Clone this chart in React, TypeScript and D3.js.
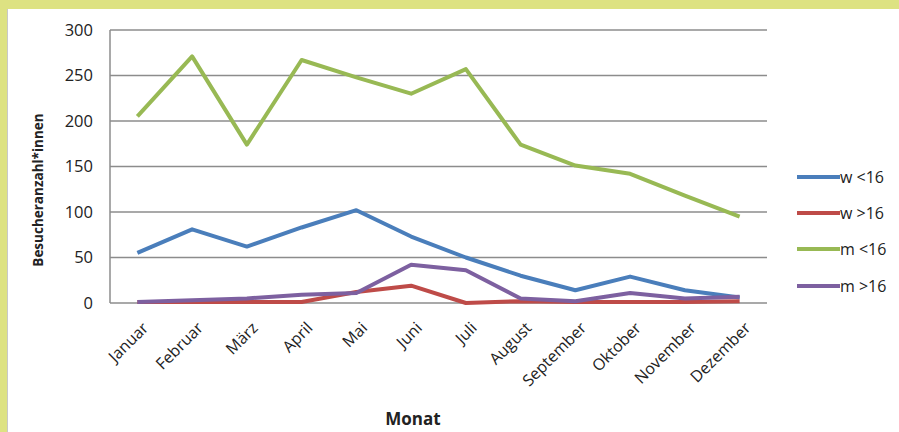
import React from "react";
import * as d3 from "d3";

const months = ["Januar","Februar","März","April","Mai","Juni","Juli","August","September","Oktober","November","Dezember"];
const wUnder16 = [55, 81, 62, 83, 102, 73, 50, 30, 14, 29, 14, 6];
const wOver16 = [1, 1, 1, 1, 12, 19, 0, 2, 1, 1, 1, 2];
const mUnder16 = [205, 271, 174, 267, 248, 230, 257, 174, 151, 142, 118, 95];
const mOver16 = [1, 3, 5, 9, 11, 42, 36, 5, 2, 11, 5, 7];
const yTicks = [0, 50, 100, 150, 200, 250, 300];
const seriesNames = ["w <16", "w >16", "m <16", "m >16"];
const seriesColors = ["#4a7ebb", "#be4b48", "#98b954", "#7d60a0"];

const W = 899, H = 432;
const font = "'Open Sans', 'Liberation Sans', sans-serif";

export default function App() {
  const x = d3.scaleBand<string>().domain(months).range([110, 767]);
  const y = d3.scaleLinear().domain([0, 300]).range([303, 30]);
  const series = [wUnder16, wOver16, mUnder16, mOver16];
  const line = d3.line<number>()
    .x((_, i) => (x(months[i]) as number) + x.bandwidth() / 2)
    .y((d) => y(d));
  const legendY = [177, 213, 249, 286];
  const drawOrder = [2, 0, 1, 3];
  return (
    <svg width={W} height={H} style={{ position: "absolute", left: 0, top: 0 }} fontFamily={font}>
      <rect x={0} y={0} width={W} height={H} fill="#ffffff" />
      <rect x={0} y={0} width={W} height={9} fill="#dde282" />
      <rect x={0} y={0} width={7} height={H} fill="#dde282" />
      <line x1={7.5} x2={7.5} y1={9} y2={H} stroke="#c8c8c8" strokeWidth={1} />
      {yTicks.map((t) => (
        <g key={t}>
          {t > 0 && (
            <line x1={110} x2={767} y1={y(t)} y2={y(t)} stroke="#8c8c8c" strokeWidth={1.5} />
          )}
          <text x={93} y={y(t)} dy="0.35em" textAnchor="end" fontSize={16.5} fill="#222">{t}</text>
        </g>
      ))}
      <line x1={110} x2={767} y1={y(0)} y2={y(0)} stroke="#8c8c8c" strokeWidth={1.5} />
      <line x1={110} x2={110} y1={y(300)} y2={y(0)} stroke="#8c8c8c" strokeWidth={1.5} />
      {drawOrder.map((si) => (
        <path key={si} d={line(series[si]) as string} fill="none" stroke={seriesColors[si]} strokeWidth={4} strokeLinejoin="round" />
      ))}
      {months.map((m) => {
        const cx = (x(m) as number) + x.bandwidth() / 2;
        return (
          <text key={m} transform={`translate(${cx + 12},${329}) rotate(-45)`} textAnchor="end" fontSize={16} fill="#222">{m}</text>
        );
      })}
      <text transform={`translate(43,${190}) rotate(-90)`} textAnchor="middle" fontSize={13.5} fontWeight="bold" fill="#222">Besucheranzahl*innen</text>
      <text x={413} y={425} textAnchor="middle" fontSize={17} fontWeight="bold" fill="#222">Monat</text>
      {seriesNames.map((n, i) => (
        <g key={n}>
          <line x1={797} x2={840} y1={legendY[i]} y2={legendY[i]} stroke={seriesColors[i]} strokeWidth={4} />
          <text x={840} y={legendY[i]} dy="0.35em" fontSize={16} fill="#222">{n}</text>
        </g>
      ))}
    </svg>
  );
}
